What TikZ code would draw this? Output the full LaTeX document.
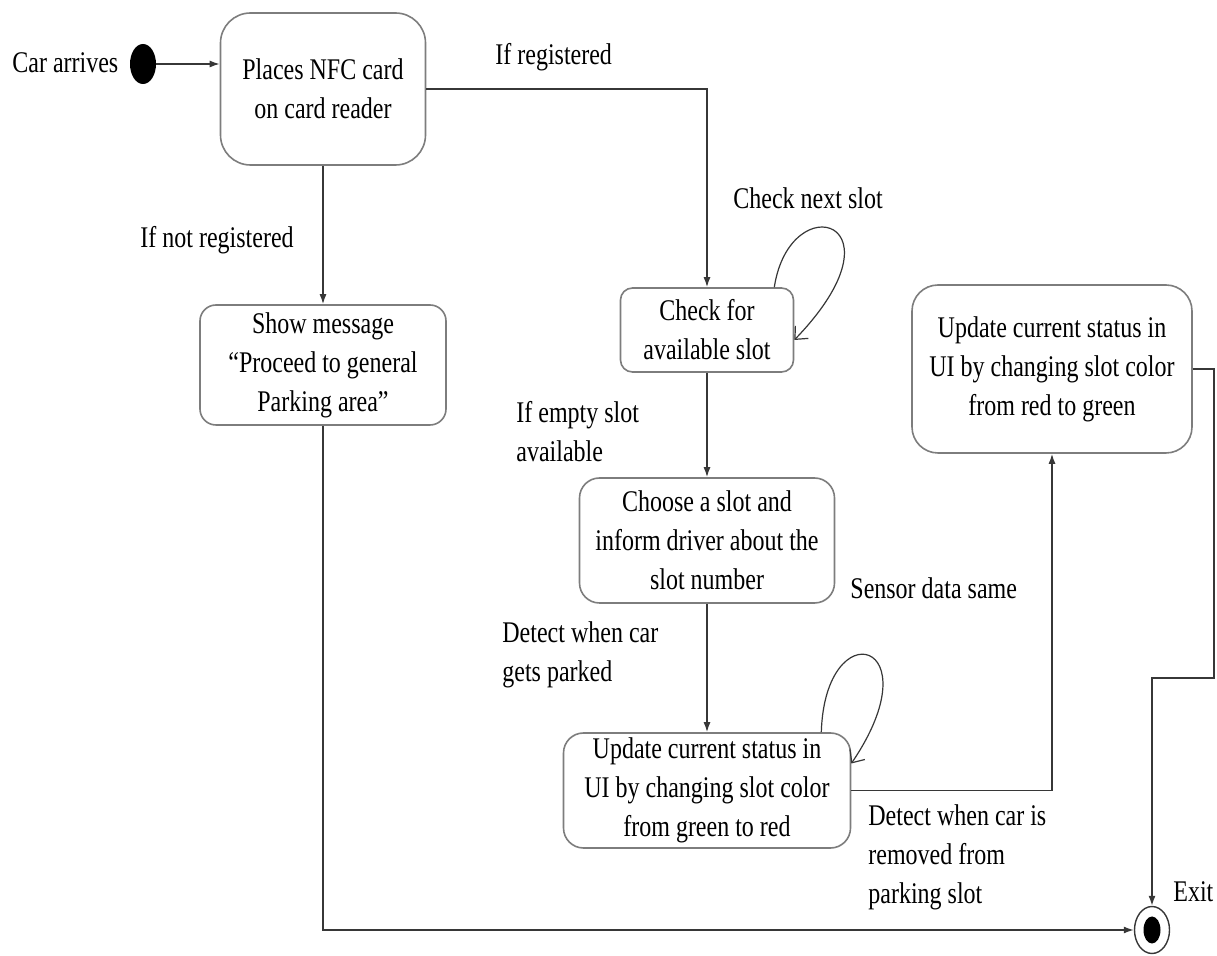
\documentclass[tikz,border=0pt]{standalone}
\usepackage{fontspec}
\setmainfont{Liberation Serif}[FakeStretch=0.8]
\usetikzlibrary{arrows.meta,shapes.geometric}
\definecolor{boxgray}{RGB}{125,125,125}
\definecolor{linegray}{RGB}{55,55,55}
\tikzstyle{state}=[rectangle, rounded corners=9pt, draw=boxgray, line width=0.8pt, fill=white, align=center, inner sep=0pt, font=\fontsize{15}{19.5}\selectfont]
\tikzstyle{guard}=[anchor=west, align=left, inner sep=0pt, font=\fontsize{15}{19.5}\selectfont]
\tikzstyle{flow}=[draw=linegray, line width=0.7pt, -{Latex[length=5pt,width=3.5pt]}]
\tikzstyle{selfloop}=[draw=linegray, line width=0.6pt, -{Straight Barb[length=5pt,width=9pt]}]
\newcommand{\state}{\node[state]}
\newcommand{\guard}{\node[guard]}

\begin{document}
\begin{tikzpicture}[x=0.5pt, y=-0.5pt
    ,every edge/.style={flow}
]
\useasboundingbox (0,0) rectangle (1217,956);
% states
\node[ellipse, fill=black, minimum width=13pt, minimum height=20pt, inner sep=0pt] (start) at (143,64) {};
\state[minimum width=102.5pt, minimum height=76pt, rounded corners=15pt] (nfc) at (323,89) {Places NFC card\\on card reader};
\state[minimum width=123pt, minimum height=60pt, rounded corners=8pt] (show) at (323,365) {Show message\\``Proceed to general\\Parking area''};
\state[minimum width=86.5pt, minimum height=42pt, rounded corners=6pt] (check) at (707,330) {Check for\\available slot};
\state[minimum width=127.5pt, minimum height=62.5pt, rounded corners=10pt] (choose) at (707,540.5) {Choose a slot and\\inform driver about the\\slot number};
\state[minimum width=143.5pt, minimum height=57.5pt, rounded corners=10pt] (red) at (707,790.5) {Update current status in\\UI by changing slot color\\from green to red};
\state[minimum width=140pt, minimum height=84pt, rounded corners=13pt] (green) at (1052,369) {Update current status in\\UI by changing slot color\\from red to green};
\node[ellipse, draw=linegray, line width=0.7pt, fill=white, minimum width=17.5pt, minimum height=23.5pt, inner sep=0pt] (exit) at (1152,930) {};
\node[ellipse, fill=black, minimum width=8.5pt, minimum height=13.5pt, inner sep=0pt] (exitdot) at (exit) {};
\coordinate (bend) at (1214,678);

% transitions
\path
(start) edge (start -| nfc.west)
(nfc) edge (show)
(check) edge (choose)
(choose) edge (red)
;
\draw[flow] (nfc.east) -| (check.north);
\draw[flow] (red.east) -| (green.south);
\draw[flow] (green.east) -| (bend) -| (exit.north);
\draw[flow] (show.south) |- (exit.west);
\draw[selfloop] ([xshift=-10pt]check.north east) .. controls (790,185) and (910,220) .. ([yshift=-5pt]check.east);
\draw[selfloop] ([xshift=-15pt]red.north east) .. controls (825,610) and (935,640) .. ([yshift=13.5pt]red.east);

% labels
\guard (arrives) at (12,63) {Car arrives};
\guard (reg) at (495,57) {If registered};
\guard (notreg) at (140,240) {If not registered};
\guard (nextslot) at (733,198) {Check next slot};
\guard (empty) at (516,432) {If empty slot\\available};
\guard (parked) at (502,655) {Detect when car\\gets parked};
\guard (same) at (850,588) {Sensor data same};
\guard (removed) at (868,857) {Detect when car is\\removed from\\parking slot};
\guard (exitlbl) at (1173,892) {Exit};
\end{tikzpicture}
\end{document}
